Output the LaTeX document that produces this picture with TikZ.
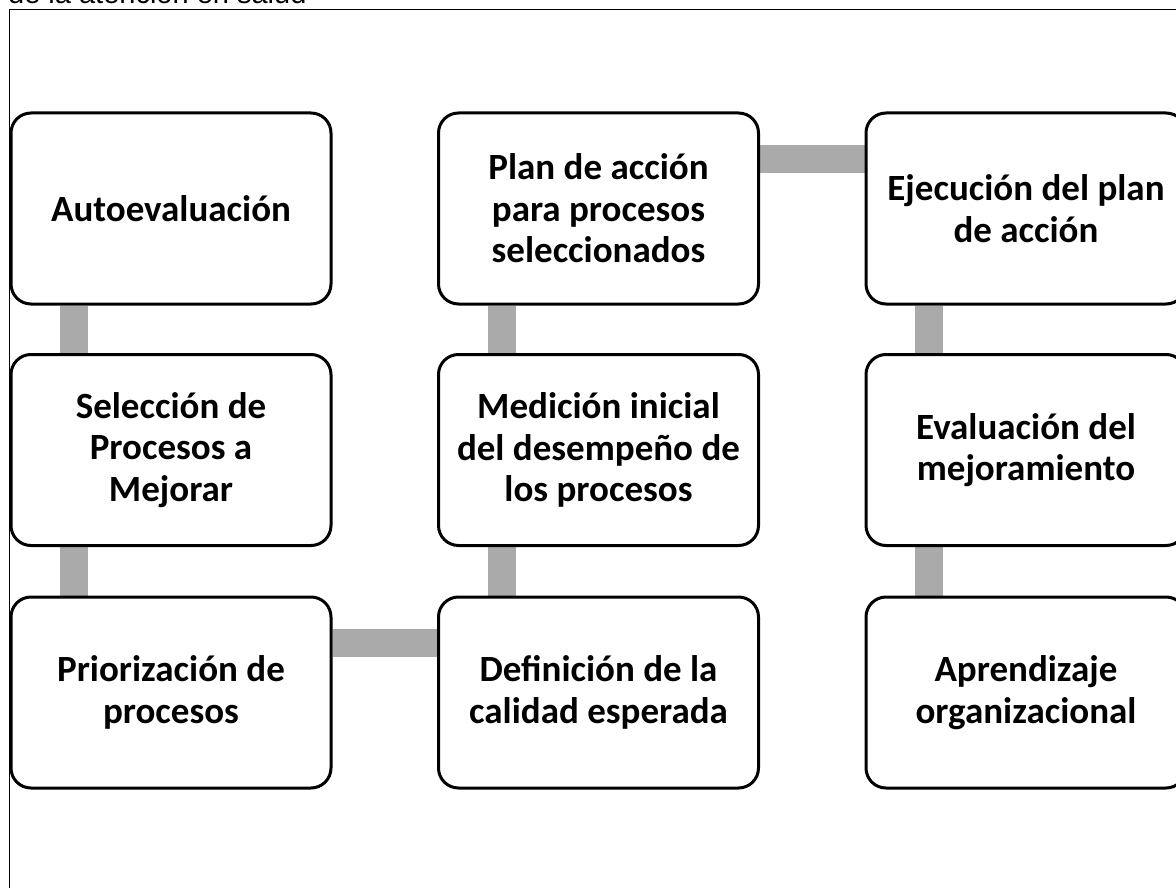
\documentclass[tikz,border=0pt]{standalone}
\usepackage{fontspec}
\setmainfont{Carlito}
\newfontfamily\arialfont{Liberation Sans}
\usetikzlibrary{backgrounds}
\definecolor{barragris}{RGB}{170,170,170}
\tikzset{
  paso/.style={draw, line width=3pt, rounded corners=20pt, fill=white,
    minimum width=320pt, minimum height=191pt, inner sep=0pt, align=center,
    font=\fontsize{37}{41.5}\selectfont\bfseries},
  barra/.style={draw=barragris, line width=28pt}
}

\begin{document}
\begin{tikzpicture}[x=1pt,y=-1pt]
  \useasboundingbox (0,0) rectangle (1176,888);
  \node [anchor=base west, inner sep=0pt,
    font=\arialfont\fontsize{29}{34}\selectfont] (titulo) at (8,4)
    {de la atención en salud};
  \draw [line width=1.5pt] (1200,9.5) -- (9.5,9.5) -- (9.5,900);
  \node [paso] (1) at (171,208.5)
    {Autoevaluación};
  \node [paso] (2) at (171,450)
    {Selección de\\Procesos a\\Mejorar};
  \node [paso] (3) at (171,692.5)
    {Priorización de\\procesos};
  \node [paso] (4) at (598.5,692.5)
    {Definición de la\\calidad esperada};
  \node [paso] (5) at (598.5,450)
    {Medición inicial\\del desempeño de\\los procesos};
  \node [paso] (6) at (598.5,208.5)
    {Plan de acción\\para procesos\\seleccionados};
  \node [paso] (7) at (1026,208.5)
    {Ejecución del plan\\de acción};
  \node [paso] (8) at (1026,450)
    {Evaluación del\\mejoramiento};
  \node [paso] (9) at (1026,692.5)
    {Aprendizaje\\organizacional};
  \begin{scope}[on background layer]
    \draw [barra] ([xshift=64pt]1.south west) to ([xshift=64pt]2.north west);
    \draw [barra] ([xshift=64pt]2.south west) to ([xshift=64pt]3.north west);
    \draw [barra] ([yshift=-47.5pt]3.north east) to ([yshift=-47.5pt]4.north west);
    \draw [barra] ([xshift=64.5pt]4.north west) to ([xshift=64.5pt]5.south west);
    \draw [barra] ([xshift=64.5pt]5.north west) to ([xshift=64.5pt]6.south west);
    \draw [barra] ([yshift=-48pt]6.north east) to ([yshift=-48pt]7.north west);
    \draw [barra] ([xshift=64pt]7.south west) to ([xshift=64pt]8.north west);
    \draw [barra] ([xshift=64pt]8.south west) to ([xshift=64pt]9.north west);
  \end{scope}
\end{tikzpicture}
\end{document}
